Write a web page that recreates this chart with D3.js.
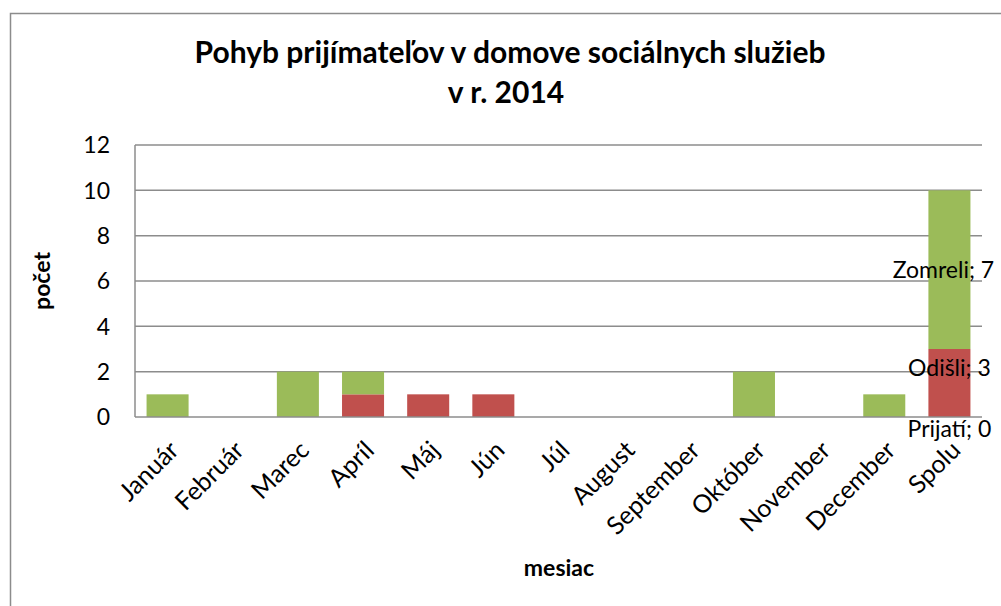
<!DOCTYPE html>
<html>
<head>
<meta charset="utf-8">
<script src="https://cdn.jsdelivr.net/npm/d3@7"></script>
<style>
  body { margin: 0; background: #fff; }
  text { font-family: Lato, "Open Sans", sans-serif; fill: #000; }
</style>
</head>
<body>
<svg id="chart" width="1001" height="606"></svg>
<script>
var months = ['Január', 'Február', 'Marec', 'Apríl', 'Máj', 'Jún', 'Júl', 'August', 'September', 'Október', 'November', 'December', 'Spolu']
var prijati = [0, 0, 0, 0, 0, 0, 0, 0, 0, 0, 0, 0, 0]
var odisli = [0, 0, 0, 1, 1, 1, 0, 0, 0, 0, 0, 0, 3]
var zomreli = [1, 0, 2, 1, 0, 0, 0, 0, 0, 2, 0, 1, 7]
var seriesNames = ['Prijatí', 'Odišli', 'Zomreli']
var seriesColors = ['#4F81BD', '#C0504D', '#9BBB59']
var yTicks = [0, 2, 4, 6, 8, 10, 12]

var svg = d3.select('#chart')
var plotLeft = 135, plotRight = 982, plotTop = 145, plotBottom = 417
var gray = '#8c8c8c'

// outer chart frame (runs off the right and bottom edge)
svg.append('rect').attr('x', 10.5).attr('y', 13.5).attr('width', 1100).attr('height', 700)
  .attr('fill', 'none').attr('stroke', gray).attr('stroke-width', 1.5)

var x = d3.scaleBand().domain(months).range([plotLeft, plotRight]).paddingInner(0.355).paddingOuter(0.1775)
var y = d3.scaleLinear().domain([0, 12]).range([plotBottom, plotTop])

/** gridlines */
svg.append('g').selectAll('line').data(yTicks.slice(1)).enter().append('line')
  .attr('x1', plotLeft).attr('x2', plotRight).attr('y1', function (d) { return y(d) }).attr('y2', function (d) { return y(d) })
  .attr('stroke', gray).attr('stroke-width', 1.5)

/** stacked bars */
var rows = months.map(function (m, i) {
  return {month: m, Prijatí: prijati[i], Odišli: odisli[i], Zomreli: zomreli[i]}
})
var stacked = d3.stack().keys(seriesNames)(rows)

svg.append('g').selectAll('g').data(stacked).enter().append('g')
  .attr('fill', function (d, i) { return seriesColors[i] })
  .selectAll('rect').data(function (d) { return d }).enter().append('rect')
  .attr('x', function (d) { return x(d.data.month) })
  .attr('width', x.bandwidth())
  .attr('y', function (d) { return y(d[1]) })
  .attr('height', function (d) { return y(d[0]) - y(d[1]) })

/** axes lines */
svg.append('line').attr('x1', plotLeft).attr('x2', plotLeft).attr('y1', plotTop).attr('y2', plotBottom)
  .attr('stroke', gray).attr('stroke-width', 1.5)
svg.append('line').attr('x1', plotLeft).attr('x2', plotRight).attr('y1', plotBottom).attr('y2', plotBottom)
  .attr('stroke', gray).attr('stroke-width', 1.5)

/** y tick labels */
svg.append('g').selectAll('text').data(yTicks).enter().append('text')
  .attr('x', plotLeft - 25).attr('y', function (d) { return y(d) }).attr('dy', '0.36em')
  .attr('text-anchor', 'end').style('font-size', '23px').text(function (d) { return d })

/** x tick labels */
svg.append('g').selectAll('text').data(months).enter().append('text')
  .attr('transform', function (d) { return 'translate(' + (x(d) + x.bandwidth() / 2) + ',' + 439 + ') rotate(-45)' })
  .attr('dy', '0.72em').attr('text-anchor', 'end').style('font-size', '25px').text(function (d) { return d })

/** data labels for Spolu */
var last = months.length - 1
var labelShift = [12, -15, 0]
var labelShiftX = [0, 0, -6]
stacked.forEach(function (s, i) {
  var d = s[last]
  var cy = i === 0 ? y(d[0]) + labelShift[0] : (y(d[0]) + y(d[1])) / 2 + labelShift[i]
  svg.append('text').attr('x', x(months[last]) + x.bandwidth() / 2 + labelShiftX[i]).attr('y', cy).attr('dy', '0.36em')
    .attr('text-anchor', 'middle').style('font-size', '23px')
    .text(seriesNames[i] + '; ' + d.data[seriesNames[i]])
})

/** title */
svg.append('text').attr('x', 510).attr('y', 63).attr('text-anchor', 'middle')
  .style('font-size', '30px').style('font-weight', 'bold').text('Pohyb prijímateľov v domove sociálnych služieb')
svg.append('text').attr('x', 506).attr('y', 103).attr('text-anchor', 'middle')
  .style('font-size', '30px').style('font-weight', 'bold').text('v r. 2014')

/** axis titles */
svg.append('text').attr('transform', 'translate(42,281) rotate(-90)').attr('dy', '0.36em')
  .attr('text-anchor', 'middle').style('font-size', '23px').style('font-weight', 'bold').text('počet')
svg.append('text').attr('x', 559).attr('y', 568).attr('dy', '0.36em')
  .attr('text-anchor', 'middle').style('font-size', '23px').style('font-weight', 'bold').text('mesiac')
</script>
</body>
</html>
